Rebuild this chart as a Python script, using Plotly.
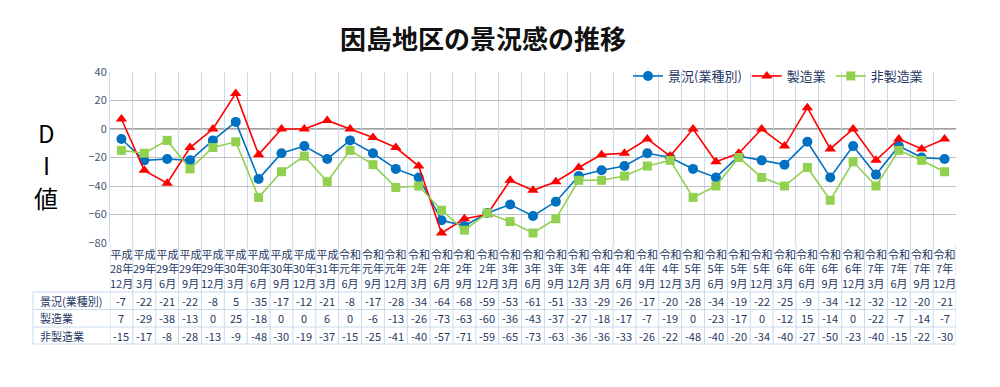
import plotly.graph_objects as go

categories = [
    "平成<br>28年<br>12月", "平成<br>29年<br>3月", "平成<br>29年<br>6月", "平成<br>29年<br>9月", "平成<br>29年<br>12月",
    "平成<br>30年<br>3月", "平成<br>30年<br>6月", "平成<br>30年<br>9月", "平成<br>30年<br>12月", "平成<br>31年<br>3月",
    "令和<br>元年<br>6月", "令和<br>元年<br>9月", "令和<br>元年<br>12月",
    "令和<br>2年<br>3月", "令和<br>2年<br>6月", "令和<br>2年<br>9月", "令和<br>2年<br>12月",
    "令和<br>3年<br>3月", "令和<br>3年<br>6月", "令和<br>3年<br>9月", "令和<br>3年<br>12月",
    "令和<br>4年<br>3月", "令和<br>4年<br>6月", "令和<br>4年<br>9月", "令和<br>4年<br>12月",
    "令和<br>5年<br>3月", "令和<br>5年<br>6月", "令和<br>5年<br>9月", "令和<br>5年<br>12月",
    "令和<br>6年<br>3月", "令和<br>6年<br>6月", "令和<br>6年<br>9月", "令和<br>6年<br>12月",
    "令和<br>7年<br>3月", "令和<br>7年<br>6月", "令和<br>7年<br>9月", "令和<br>7年<br>12月",
]
keikyo = [-7, -22, -21, -22, -8, 5, -35, -17, -12, -21, -8, -17, -28, -34, -64, -68, -59, -53, -61, -51, -33,
          -29, -26, -17, -20, -28, -34, -19, -22, -25, -9, -34, -12, -32, -12, -20, -21]
seizo = [7, -29, -38, -13, 0, 25, -18, 0, 0, 6, 0, -6, -13, -26, -73, -63, -60, -36, -43, -37, -27,
         -18, -17, -7, -19, 0, -23, -17, 0, -12, 15, -14, 0, -22, -7, -14, -7]
hiseizo = [-15, -17, -8, -28, -13, -9, -48, -30, -19, -37, -15, -25, -41, -40, -57, -71, -59, -65, -73, -63, -36,
           -36, -33, -26, -22, -48, -40, -20, -34, -40, -27, -50, -23, -40, -15, -22, -30]
series_names = ["景況(業種別)", "製造業", "非製造業"]
series_values = [keikyo, seizo, hiseizo]
yticks = [40, 20, 0, -20, -40, -60, -80]
y_title_chars = ["D", "I", "値"]

W, H = 1000, 387
OFF = 8  # page body margin
# plot area in page pixels
P_L, P_T, P_R, P_B = 110, 72, 956, 243
ML, MT = P_L - OFF, P_T - OFF
MR, MB = W - (P_R - OFF), H - (P_B - OFF)
PW, PH = P_R - P_L, P_B - P_T
FONT = "Noto Sans CJK JP"
TXT = "#1f3864"
GRID_BLUE = "#c9d9ee"


def px_y(p):  # page pixel y -> paper y
    return (P_B - p) / PH


def px_x(p):  # page pixel x -> paper x
    return (p - P_L) / PW


fig = go.Figure()
colors = ["#0070C0", "#FF0000", "#92D050"]
symbols = ["circle", "triangle-up", "square"]
sizes = [10, 10, 9]
for name, vals, c, s, sz in zip(series_names, series_values, colors, symbols, sizes):
    fig.add_trace(go.Scatter(
        x=categories, y=vals, name=name, mode="lines+markers",
        line=dict(color=c, width=1.6),
        marker=dict(symbol=s, size=sz, color=c),
    ))

shapes = []
annotations = []

# category labels row
for cat in categories:
    annotations.append(dict(x=cat, xref="x", y=px_y(268), yref="paper", text=cat,
                            showarrow=False, font=dict(family=FONT, size=11, color=TXT),
                            align="center", yanchor="middle", xanchor="center"))
# data rows
row_pix = [300.5, 318, 335.5]
for name, vals, rp in zip(series_names, series_values, row_pix):
    annotations.append(dict(x=px_x(38), xref="paper", y=px_y(rp), yref="paper", text=name,
                            showarrow=False, font=dict(family=FONT, size=11, color=TXT),
                            xanchor="left", yanchor="middle"))
    for cat, v in zip(categories, vals):
        annotations.append(dict(x=cat, xref="x", y=px_y(rp), yref="paper", text=str(v),
                                showarrow=False, font=dict(family=FONT, size=11, color=TXT),
                                xanchor="center", yanchor="middle"))

# table grid
n = len(categories)
for i in range(n + 1):
    shapes.append(dict(type="line", xref="x", yref="paper", x0=i - 0.5, x1=i - 0.5,
                       y0=px_y(243), y1=px_y(344), line=dict(color=GRID_BLUE, width=1)))
shapes.append(dict(type="line", xref="paper", yref="paper", x0=px_x(33), x1=px_x(33),
                   y0=px_y(292), y1=px_y(344), line=dict(color=GRID_BLUE, width=1)))
for hp in [292, 309.5, 327, 344]:
    shapes.append(dict(type="line", xref="paper", yref="paper", x0=px_x(33), x1=1,
                       y0=px_y(hp), y1=px_y(hp), line=dict(color=GRID_BLUE, width=1)))

# zero line
shapes.append(dict(type="line", xref="paper", yref="y", x0=0, x1=1, y0=0, y1=0,
                   line=dict(color="#808080", width=1.5), layer="below"))

# y-axis title (stacked vertical characters)
for ch, yp in zip(y_title_chars, [132, 164, 197]):
    annotations.append(dict(x=px_x(46), xref="paper", y=px_y(yp), yref="paper",
                            text=ch, showarrow=False,
                            font=dict(family=FONT, size=24, color="#000000"),
                            xanchor="center", yanchor="middle"))

fig.update_layout(
    width=W, height=H,
    margin=dict(l=ML, r=MR, t=MT, b=MB),
    paper_bgcolor="white", plot_bgcolor="white",
    title=dict(text="<b>因島地区の景況感の推移</b>", x=(483 - OFF) / W, xanchor="center",
               y=1 - (40 - OFF) / H, yanchor="middle",
               font=dict(family=FONT, size=26, color="#111111")),
    showlegend=True,
    legend=dict(orientation="h", x=px_x(628), xanchor="left", y=px_y(76), yanchor="middle",
                font=dict(family=FONT, size=13, color=TXT), bgcolor="rgba(0,0,0,0)",
                itemwidth=30, tracegroupgap=0),
    shapes=shapes,
    annotations=annotations,
    xaxis=dict(type="category", range=[-0.5, n - 0.5], showticklabels=False, ticks="",
               showgrid=True, gridcolor=GRID_BLUE, gridwidth=1, tickson="boundaries",
               showline=False, zeroline=False, fixedrange=True),
    yaxis=dict(range=[-80, 40], tickvals=yticks, showgrid=True, gridcolor="#c0c0c0", gridwidth=1,
               zeroline=False, showline=True, linecolor=GRID_BLUE, linewidth=1,
               tickfont=dict(family=FONT, size=11, color="#44546a"), ticks="", ticklen=0,
               fixedrange=True),
)

fig.write_html("out.html")
